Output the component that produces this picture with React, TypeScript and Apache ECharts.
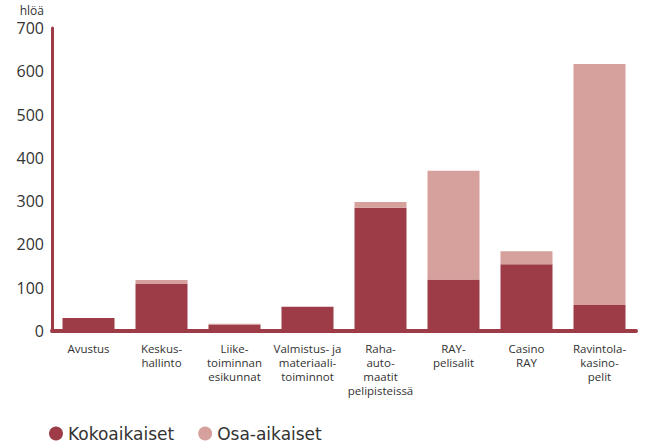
import React, { useEffect, useRef } from "react";
import * as echarts from "echarts";

const categories = [
  "Avustus",
  "Keskus-\nhallinto",
  "Liike-\ntoiminnan\nesikunnat",
  "Valmistus- ja\nmateriaali-\ntoiminnot",
  "Raha-\nauto-\nmaatit\npelipisteissä",
  "RAY-\npelisalit",
  "Casino\nRAY",
  "Ravintola-\nkasino-\npelit",
];
const kokoaikaiset = [30, 110, 15, 56, 285, 119, 154, 60];
const osaAikaiset = [0, 8, 2, 0, 13, 251, 30, 557];
const yTicks = [0, 100, 200, 300, 400, 500, 600, 700];

const DARK = "#9d3c46";
const LIGHT = "#d6a09c";
const FONT = "'Open Sans', sans-serif";

export default function App() {
  const ref = useRef<HTMLDivElement>(null);
  useEffect(() => {
    const chart = echarts.init(ref.current!, null, { renderer: "svg" });
    chart.setOption({
      animation: false,
      textStyle: { fontFamily: FONT },
      grid: { left: 52, right: 10, top: 28, bottom: 114, containLabel: false },
      legend: {
        left: 49,
        top: 425,
        padding: 0,
        icon: "circle",
        itemWidth: 14,
        itemHeight: 14,
        itemGap: 24,
        textStyle: {
          fontSize: 17,
          lineHeight: 16,
          color: "#333",
          fontFamily: "'DejaVu Sans', sans-serif",
        },
        data: ["Kokoaikaiset", "Osa-aikaiset"],
      },
      xAxis: {
        type: "category",
        data: categories,
        axisTick: { show: false },
        axisLine: { show: true, lineStyle: { color: DARK, width: 4 } },
        axisLabel: {
          interval: 0,
          margin: 10,
          fontSize: 11.5,
          lineHeight: 14,
          color: "#333",
          fontFamily: FONT,
        },
      },
      yAxis: {
        type: "value",
        min: yTicks[0],
        max: yTicks[yTicks.length - 1],
        interval: 100,
        name: "hlöä",
        nameLocation: "end",
        nameGap: 12,
        nameTextStyle: { fontSize: 12, color: "#333", align: "right", padding: [0, 8, 0, 0] },
        splitLine: { show: false },
        axisTick: { show: false },
        axisLine: { show: true, lineStyle: { color: DARK, width: 3 } },
        axisLabel: { fontSize: 16, color: "#333", margin: 8, fontFamily: FONT },
      },
      series: [
        {
          name: "Kokoaikaiset",
          type: "bar",
          stack: "a",
          barWidth: 52,
          data: kokoaikaiset,
          itemStyle: { color: DARK },
        },
        {
          name: "Osa-aikaiset",
          type: "bar",
          stack: "a",
          barWidth: 52,
          data: osaAikaiset,
          itemStyle: { color: LIGHT },
        },
      ],
    });
    return () => chart.dispose();
  }, []);
  return (
    <div
      ref={ref}
      style={{ position: "absolute", left: 0, top: 0, width: 646, height: 445 }}
    />
  );
}
